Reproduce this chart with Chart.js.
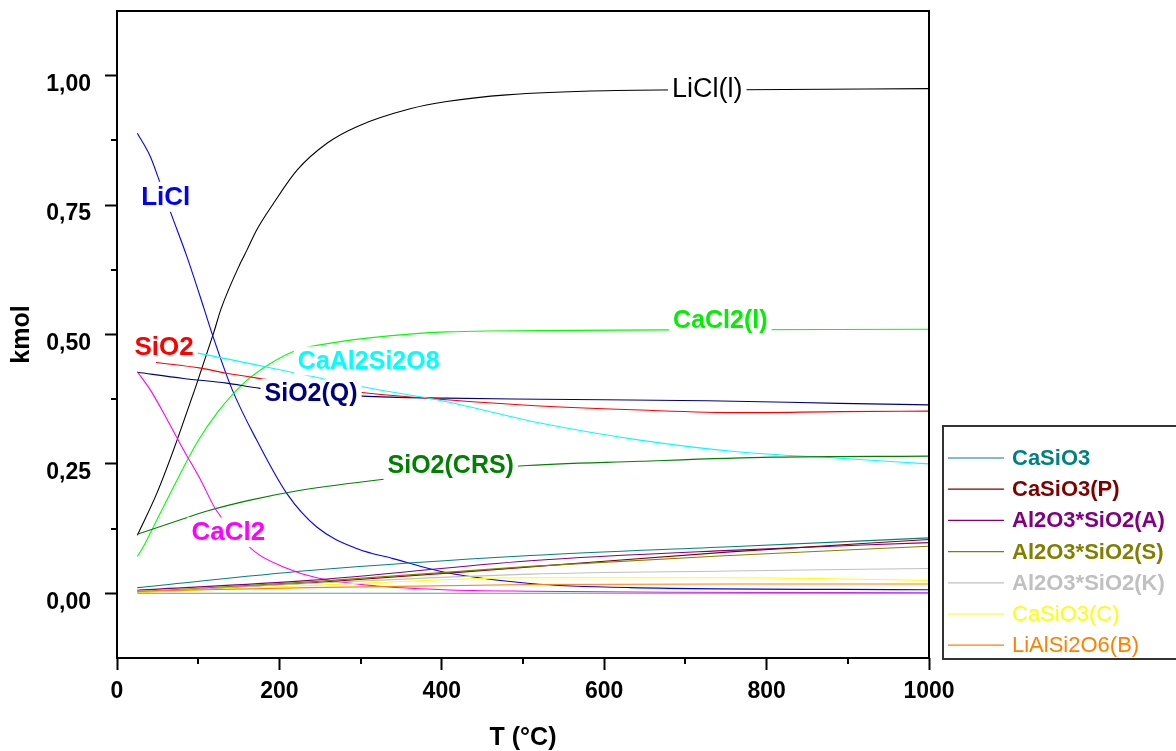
<!DOCTYPE html>
<html>
<head>
<meta charset="utf-8">
<script src="https://cdn.jsdelivr.net/npm/chart.js@4.4.0/dist/chart.umd.min.js"></script>
<style>
html,body{margin:0;padding:0;background:#fff;}
#wrap{width:1176px;height:751px;position:relative;}
</style>
</head>
<body>
<div id="wrap"><canvas id="c" width="1176" height="751"></canvas></div>
<script>
const FONT = '"Liberation Sans", Arial, Helvetica, sans-serif';

// ---- axis ticks ----
const xTicks = [0, 200, 400, 600, 800, 1000];
const xMinorTicks = [100, 300, 500, 700, 900];
const yTicks = [0, 0.25, 0.5, 0.75, 1.0];
const yTickLabels = ['0,00', '0,25', '0,50', '0,75', '1,00'];
const yMinorTicks = [0.125, 0.375, 0.625, 0.875];

// ---- series (T in °C, amount in kmol) ----
const T_LiCl_l = [25, 49, 74, 119, 128, 152, 160, 172, 193, 222, 259, 296, 361, 406, 480, 603, 771, 1000];
const V_LiCl_l = [0.112, 0.193, 0.296, 0.503, 0.549, 0.638, 0.663, 0.702, 0.754, 0.818, 0.870, 0.902, 0.936, 0.950, 0.963, 0.971, 0.973, 0.975];

const T_LiCl = [25, 41, 51, 66, 86, 107, 117, 142, 172, 209, 246, 296, 340, 402, 509, 632, 1000];
const V_LiCl = [0.889, 0.844, 0.802, 0.736, 0.651, 0.551, 0.502, 0.393, 0.296, 0.193, 0.128, 0.086, 0.067, 0.041, 0.019, 0.011, 0.007];

const T_CaCl2_l = [25, 31, 53, 74, 98, 123, 156, 189, 222, 250, 308, 406, 562, 677, 1000];
const V_CaCl2_l = [0.071, 0.086, 0.154, 0.219, 0.290, 0.348, 0.406, 0.444, 0.470, 0.480, 0.493, 0.505, 0.508, 0.509, 0.510];

const T_CaAl2Si2O8 = [25, 96, 222, 302, 406, 521, 644, 767, 890, 1000];
const V_CaAl2Si2O8 = [0.485, 0.465, 0.425, 0.399, 0.370, 0.329, 0.296, 0.273, 0.261, 0.250];

const T_SiO2 = [48, 103, 135, 176, 302, 406, 521, 644, 767, 890, 1000];
const V_SiO2 = [0.446, 0.435, 0.425, 0.415, 0.388, 0.374, 0.362, 0.354, 0.349, 0.351, 0.352];

const T_SiO2_Q = [25, 82, 135, 176, 302, 406, 521, 727, 890, 1000];
const V_SiO2_Q = [0.427, 0.415, 0.406, 0.396, 0.381, 0.377, 0.375, 0.372, 0.367, 0.364];

const T_CaCl2 = [25, 41, 62, 82, 103, 122, 170, 205, 246, 320, 402, 509, 680, 1000];
const V_CaCl2 = [0.428, 0.393, 0.335, 0.277, 0.219, 0.161, 0.080, 0.051, 0.030, 0.014, 0.007, 0.004, 0.002, 0.001];

const T_SiO2_CRS = [25, 80, 111, 164, 226, 326, 496, 644, 808, 1000];
const V_SiO2_CRS = [0.114, 0.143, 0.159, 0.180, 0.199, 0.220, 0.246, 0.255, 0.263, 0.265];

const T_minor = [25, 237, 509, 755, 1000];
const V_CaSiO3 = [0.011, 0.044, 0.073, 0.090, 0.107];
const V_CaSiO3_P = [0.002, 0.020, 0.051, 0.080, 0.104];
const V_Al2O3SiO2_A = [0.006, 0.025, 0.063, 0.083, 0.098];
const V_Al2O3SiO2_S = [0.003, 0.022, 0.052, 0.073, 0.091];
const V_Al2O3SiO2_K = [0.002, 0.019, 0.037, 0.043, 0.048];
const V_CaSiO3_C = [0.001, 0.015, 0.030, 0.030, 0.025];
const V_LiAlSi2O6_B = [0.004, 0.011, 0.017, 0.018, 0.018];
const V_baseline = [0, 0, 0, 0, 0];

// ---- build datasets ----
function pts(T, V) { return T.map((t, i) => ({ x: t, y: V[i] })); }
function ds(label, T, V, color) {
  return {
    label: label, data: pts(T, V), borderColor: color, backgroundColor: color,
    borderWidth: 1.1, pointRadius: 0, fill: false, cubicInterpolationMode: 'monotone'
  };
}

const datasets = [
  ds('baseline', T_minor, V_baseline, '#5a9e9e'),
  ds('LiAlSi2O6(B)', T_minor, V_LiAlSi2O6_B, '#ff8000'),
  ds('CaSiO3(C)', T_minor, V_CaSiO3_C, '#ffff00'),
  ds('Al2O3*SiO2(K)', T_minor, V_Al2O3SiO2_K, '#c0c0c0'),
  ds('Al2O3*SiO2(S)', T_minor, V_Al2O3SiO2_S, '#808000'),
  ds('CaSiO3(P)', T_minor, V_CaSiO3_P, '#800000'),
  ds('Al2O3*SiO2(A)', T_minor, V_Al2O3SiO2_A, '#800080'),
  ds('CaSiO3', T_minor, V_CaSiO3, '#008080'),
  ds('CaCl2', T_CaCl2, V_CaCl2, '#ff00ff'),
  ds('SiO2(CRS)', T_SiO2_CRS, V_SiO2_CRS, '#008000'),
  ds('CaAl2Si2O8', T_CaAl2Si2O8, V_CaAl2Si2O8, '#00ffff'),
  ds('SiO2', T_SiO2, V_SiO2, '#ff0000'),
  ds('SiO2(Q)', T_SiO2_Q, V_SiO2_Q, '#000080'),
  ds('CaCl2(l)', T_CaCl2_l, V_CaCl2_l, '#00ff00'),
  ds('LiCl', T_LiCl, V_LiCl, '#0000ff'),
  ds('LiCl(l)', T_LiCl_l, V_LiCl_l, '#000000')
];

// ---- in-plot labels (anchored in data coordinates) ----
const curveLabels = [
  { text: 'LiCl(l)', t: 727, v: 0.975, color: '#000000', bold: false, size: 27 },
  { text: 'LiCl', t: 60, v: 0.766, color: '#0000ff', bold: true, size: 26 },
  { text: 'SiO2', t: 58, v: 0.477, color: '#ff0000', bold: true, size: 26 },
  { text: 'CaAl2Si2O8', t: 310, v: 0.449, color: '#00ffff', bold: true, size: 25 },
  { text: 'SiO2(Q)', t: 239, v: 0.386, color: '#000080', bold: true, size: 25 },
  { text: 'CaCl2(l)', t: 743, v: 0.528, color: '#00f000', bold: true, size: 25 },
  { text: 'SiO2(CRS)', t: 411, v: 0.247, color: '#008000', bold: true, size: 25 },
  { text: 'CaCl2', t: 137, v: 0.118, color: '#ff00ff', bold: true, size: 26 }
];

// ---- legend entries ----
const legendItems = [
  { text: 'CaSiO3', color: '#008080', bold: true },
  { text: 'CaSiO3(P)', color: '#800000', bold: true },
  { text: 'Al2O3*SiO2(A)', color: '#800080', bold: true },
  { text: 'Al2O3*SiO2(S)', color: '#808000', bold: true },
  { text: 'Al2O3*SiO2(K)', color: '#c0c0c0', bold: true },
  { text: 'CaSiO3(C)', color: '#ffff00', bold: false },
  { text: 'LiAlSi2O6(B)', color: '#ff8000', bold: false }
];

const decoPlugin = {
  id: 'deco',
  afterDatasetsDraw(chart) {
    const ctx = chart.ctx;
    const xs = chart.scales.x, ys = chart.scales.y;
    const a = chart.chartArea;
    ctx.save();
    // in-plot labels with white backing (creates gaps in curves)
    ctx.textAlign = 'center';
    ctx.textBaseline = 'middle';
    curveLabels.forEach(l => {
      ctx.font = (l.bold ? 'bold ' : '') + l.size + 'px ' + FONT;
      const px = xs.getPixelForValue(l.t), py = ys.getPixelForValue(l.v);
      const w = ctx.measureText(l.text).width;
      ctx.fillStyle = '#ffffff';
      ctx.fillRect(px - w / 2 - 4, py - l.size * 0.5 - 2, w + 8, l.size + 4);
      ctx.fillStyle = l.color;
      ctx.fillText(l.text, px, py + 1);
    });
    // frame
    ctx.strokeStyle = '#000';
    ctx.lineWidth = 2;
    ctx.strokeRect(a.left, a.top, a.right - a.left, a.bottom - a.top);
    // minor ticks
    ctx.lineWidth = 2;
    yMinorTicks.forEach(v => {
      const py = Math.round(ys.getPixelForValue(v));
      ctx.beginPath(); ctx.moveTo(a.left - 6, py); ctx.lineTo(a.left, py); ctx.stroke();
    });
    xMinorTicks.forEach(t => {
      const px = Math.round(xs.getPixelForValue(t));
      ctx.beginPath(); ctx.moveTo(px, a.bottom); ctx.lineTo(px, a.bottom + 6); ctx.stroke();
    });
    // legend box
    ctx.strokeStyle = '#333';
    ctx.lineWidth = 2;
    ctx.strokeRect(943, 426, 240, 233);
    ctx.textAlign = 'left';
    ctx.textBaseline = 'middle';
    legendItems.forEach((it, i) => {
      const y = 458 + i * 31.2;
      ctx.strokeStyle = it.color;
      ctx.lineWidth = 1.2;
      ctx.beginPath(); ctx.moveTo(948, y); ctx.lineTo(1004, y); ctx.stroke();
      ctx.fillStyle = it.color;
      ctx.font = (it.bold ? 'bold ' : '') + '22px ' + FONT;
      ctx.fillText(it.text, 1012, y + 1);
    });
    ctx.restore();
  }
};

new Chart(document.getElementById('c'), {
  type: 'line',
  data: { datasets: datasets },
  options: {
    responsive: false,
    devicePixelRatio: 1,
    animation: false,
    layout: { padding: { top: 11, right: 247, left: 0, bottom: 0 } },
    plugins: { legend: { display: false }, tooltip: { enabled: false } },
    scales: {
      x: {
        type: 'linear', min: 0, max: 1000,
        afterBuildTicks: s => { s.ticks = xTicks.map(v => ({ value: v })); },
        afterFit: s => { s.height = 93; s.paddingLeft = 0; s.paddingRight = 0; },
        ticks: { color: '#000', font: { family: FONT, size: 23, weight: 'bold' }, padding: 8, maxRotation: 0,
                 callback: v => String(v) },
        grid: { drawOnChartArea: false, tickLength: 12, tickColor: '#000', tickWidth: 2 },
        border: { display: false },
        title: { display: true, text: 'T (°C)', color: '#000',
                 font: { family: FONT, size: 25, weight: 'bold', lineHeight: 1.0 },
                 padding: { top: 0, bottom: 0 } }
      },
      y: {
        type: 'linear', min: -0.125, max: 1.125,
        afterBuildTicks: s => { s.ticks = yTicks.map(v => ({ value: v })); },
        afterFit: s => { s.width = 117; s.paddingTop = 0; s.paddingBottom = 0; },
        ticks: { color: '#000', font: { family: FONT, size: 23, weight: 'bold' }, padding: 14, labelOffset: 9,
                 callback: (v, i) => yTickLabels[i] },
        grid: { drawOnChartArea: false, tickLength: 12, tickColor: '#000', tickWidth: 2 },
        border: { display: false },
        title: { display: true, text: 'kmol', color: '#000', font: { family: FONT, size: 25, weight: 'bold' },
                 padding: { top: 7, bottom: 0 } }
      }
    }
  },
  plugins: [decoPlugin]
});
</script>
</body>
</html>
